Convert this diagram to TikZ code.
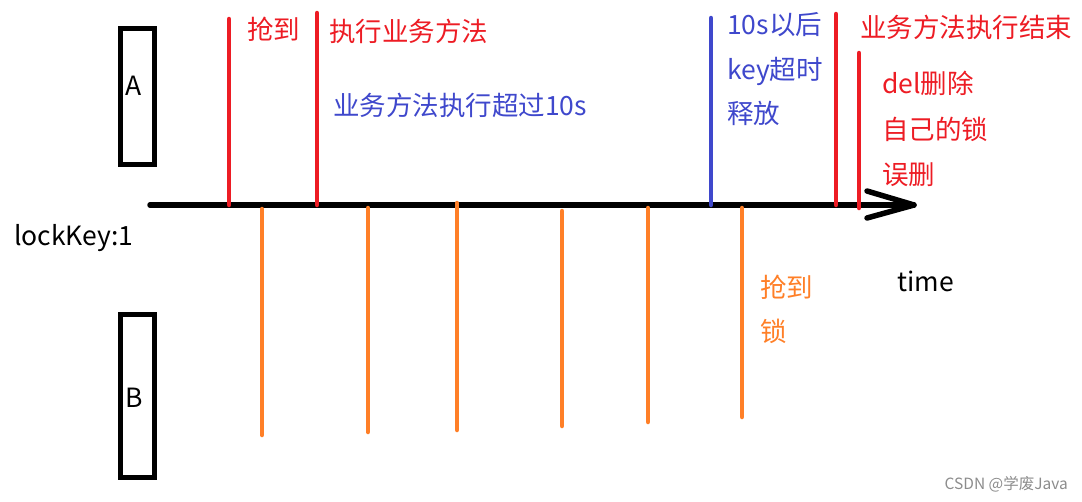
\documentclass[tikz,border=0pt]{standalone}
\usepackage{fontspec}
\setmainfont{Noto Sans CJK SC}
\begin{document}
\begin{tikzpicture}[x=1pt,y=-1pt,
  redc/.style={color={rgb,255:red,237;green,28;blue,36}},
  bluec/.style={color={rgb,255:red,63;green,72;blue,204}},
  orangec/.style={color={rgb,255:red,255;green,127;blue,39}},
  tickline/.style={line width=4.5pt,line cap=round},
  txt/.style={anchor=west,inner sep=0pt,font=\fontsize{26.5}{30}\selectfont},
  box/.style={draw,line width=5pt,minimum width=34pt,minimum height=136pt,inner sep=0pt}]
\useasboundingbox (0,0) rectangle (1082,501);
% boxes
\node[box] (A) at (137,96) {};
\node[txt,anchor=center] (Al) at (134,86) {A};
\node[box,minimum height=163pt] (B) at (137,395.5) {};
\node[txt,anchor=center] (Bl) at (134,398) {B};
% timeline
\coordinate (t0) at (150,205);
\coordinate (t1) at (914,205);
\draw[line width=5.5pt,line cap=round] (t0) -- (t1);
\draw[line width=5.5pt,line cap=round,line join=round] (867,191) -- (t1) -- (867,218);
% red / blue marks
\draw[tickline,redc] (229,19) -- (229,205);
\draw[tickline,redc] (317,13) -- (317,205);
\draw[tickline,bluec] (711,18) -- (711,205);
\draw[tickline,redc] (836,14) -- (836,205);
\draw[tickline,redc] (859,53) -- (859,208);
% orange marks
\draw[tickline,orangec] (262,209) -- (262,435);
\draw[tickline,orangec] (368,208) -- (368,432);
\draw[tickline,orangec] (457,203) -- (457,430);
\draw[tickline,orangec] (562,211) -- (562,426);
\draw[tickline,orangec] (648,208) -- (648,422);
\draw[tickline,orangec] (742,208) -- (742,417);
% texts
\node[txt,redc] (t1a) at (247,29) {抢到};
\node[txt,redc] (t2a) at (329,31) {执行业务方法};
\node[txt,bluec] (t3a) at (333,105) {业务方法执行超过10s};
\node[txt,bluec] (t4a) at (727,25) {10s以后};
\node[txt,bluec] (t4b) at (727,71) {key超时};
\node[txt,bluec] (t4c) at (727,113) {释放};
\node[txt,redc] (t5a) at (860,27) {业务方法执行结束};
\node[txt,redc] (t6a) at (882,83) {del删除};
\node[txt,redc] (t6b) at (882,129) {自己的锁};
\node[txt,redc] (t6c) at (882,175) {误删};
\node[txt] (lk) at (14,238) {lockKey:1};
\node[txt] (tm) at (897,281) {time};
\node[txt,orangec] (o1) at (760,287) {抢到};
\node[txt,orangec] (o2) at (760,331) {锁};
\node[anchor=east,inner sep=0pt,text=black!45,font=\fontsize{15.5}{18}\selectfont] (wm) at (1068,484) {CSDN @学废Java};
\end{tikzpicture}
\end{document}
